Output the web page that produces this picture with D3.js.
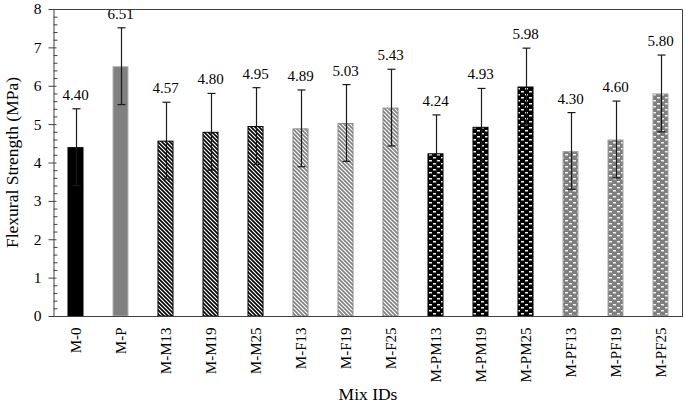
<!DOCTYPE html>
<html>
<head>
<meta charset="utf-8">
<script src="https://cdn.jsdelivr.net/npm/d3@7"></script>
<style>
  html, body { margin: 0; padding: 0; background: #fff; }
  svg { display: block; }
  svg text { font-family: "Times New Roman", Times, "Liberation Serif", LiberationSerif, "Nimbus Roman", serif !important; fill: #000; }
</style>
</head>
<body>
<svg id="chart" width="685" height="405"></svg>
<script>
const categories = ["M-0","M-P","M-M13","M-M19","M-M25","M-F13","M-F19","M-F25","M-PM13","M-PM19","M-PM25","M-PF13","M-PF19","M-PF25"];
const values = [4.40, 6.51, 4.57, 4.80, 4.95, 4.89, 5.03, 5.43, 4.24, 4.93, 5.98, 4.30, 4.60, 5.80];
const errors = [1.00, 1.00, 1.00, 1.00, 1.00, 1.00, 1.00, 1.00, 1.00, 1.00, 1.00, 1.00, 1.00, 1.00];
const yTicks = [0, 1, 2, 3, 4, 5, 6, 7, 8];
const groups = ["plain", "P", "M", "M", "M", "F", "F", "F", "PM", "PM", "PM", "PF", "PF", "PF"];

const svg = d3.select("#chart");
const W = 685, H = 405;
const m = { left: 53, right: 2, top: 9, bottom: 89 };
const x0 = m.left, x1 = W - m.right, y0 = H - m.bottom, y1 = m.top;

const x = d3.scaleBand().domain(categories).range([x0, x1]).paddingInner(0.644).paddingOuter(0.322);
const y = d3.scaleLinear().domain([0, 8]).range([y0, y1]);

const defs = svg.append("defs");
function stripes(id, color) {
  const p = defs.append("pattern").attr("id", id).attr("patternUnits", "userSpaceOnUse")
    .attr("width", 4).attr("height", 4);
  p.append("rect").attr("width", 4).attr("height", 4).attr("fill", "#fff");
  p.append("path").attr("d", "M-1,-1L5,5M3,-1L5,1M-1,3L1,5")
    .attr("stroke", color).attr("stroke-width", 1.6);
}
function dashes(id, color) {
  const p = defs.append("pattern").attr("id", id).attr("patternUnits", "userSpaceOnUse")
    .attr("width", 8).attr("height", 6);
  p.append("rect").attr("width", 8).attr("height", 6).attr("fill", color);
  p.append("rect").attr("x", 1).attr("y", 1).attr("width", 3).attr("height", 1.5).attr("fill", "#f0f0f0");
  p.append("rect").attr("x", 5).attr("y", 4).attr("width", 3).attr("height", 1.5).attr("fill", "#f0f0f0");
}
stripes("stM", "#000");
stripes("stF", "#808080");
dashes("dPM", "#000");
dashes("dPF", "#7f7f7f");

const style = {
  plain: { fill: "#000", stroke: "#000" },
  P: { fill: "#808080", stroke: "#b3b3b3" },
  M: { fill: "url(#stM)", stroke: "#000" },
  F: { fill: "url(#stF)", stroke: "#8c8c8c" },
  PM: { fill: "url(#dPM)", stroke: "#000" },
  PF: { fill: "url(#dPF)", stroke: "#a6a6a6" }
};

const data = categories.map((c, i) => ({ c, v: values[i], e: errors[i], g: groups[i] }));

svg.append("g").selectAll("rect").data(data).join("rect")
  .attr("x", d => x(d.c) + 0.5)
  .attr("y", d => y(d.v) + 0.5)
  .attr("width", x.bandwidth() - 1)
  .attr("height", d => y(0) - y(d.v) - 0.5)
  .attr("fill", d => style[d.g].fill)
  .attr("stroke", d => style[d.g].stroke)
  .attr("stroke-width", 1);

const eb = svg.append("g").attr("stroke", "#1a1a1a").attr("stroke-width", 1.2);
data.forEach(d => {
  const cx = Math.round(x(d.c) + x.bandwidth() / 2) + 0.5;
  eb.append("line").attr("x1", cx).attr("x2", cx).attr("y1", y(d.v + d.e)).attr("y2", y(d.v - d.e));
  eb.append("line").attr("x1", cx - 4).attr("x2", cx + 4).attr("y1", y(d.v + d.e)).attr("y2", y(d.v + d.e));
  eb.append("line").attr("x1", cx - 4).attr("x2", cx + 4).attr("y1", y(d.v - d.e)).attr("y2", y(d.v - d.e));
});

svg.append("g").selectAll("text").data(data).join("text")
  .attr("x", d => x(d.c) + x.bandwidth() / 2)
  .attr("y", d => y(d.v + d.e) - 9)
  .attr("text-anchor", "middle")
  .attr("font-size", 15)
  .text(d => d.v.toFixed(2));

svg.append("path")
  .attr("d", `M${x0},${y1 + 0.5}H${x1 - 0.5}V${y0}`)
  .attr("fill", "none").attr("stroke", "#404040").attr("stroke-width", 1);

const minor = d3.range(0, 8.0001, 0.2).map(v => +v.toFixed(1)).filter(v => Math.abs(v - Math.round(v)) > 1e-6);
svg.append("g").attr("transform", `translate(${x0 + 0.5},0)`)
  .call(d3.axisLeft(y).tickValues(minor).tickSize(-4).tickFormat(""))
  .call(g => g.select(".domain").remove())
  .call(g => g.selectAll("line").attr("stroke", "#404040"));
const yAx = svg.append("g").attr("transform", `translate(${x0 + 0.5},0)`)
  .call(d3.axisLeft(y).tickValues(yTicks).tickSizeInner(5).tickSizeOuter(0).tickPadding(7).tickFormat(d3.format("d")));
yAx.select(".domain").attr("stroke", "#404040");
yAx.selectAll(".tick line").attr("stroke", "#404040").attr("x2", 3).attr("x1", -5);
yAx.selectAll(".tick text").attr("font-size", 15.5);

const xAx = svg.append("g").attr("transform", `translate(0,${y0 + 0.5})`)
  .call(d3.axisBottom(x).tickSize(0).tickFormat(d => d));
xAx.select(".domain").attr("stroke", "#404040").attr("d", `M${x0},0H${x1}`);
xAx.selectAll(".tick text")
  .attr("font-size", 15)
  .attr("text-anchor", "end")
  .attr("transform", "rotate(-90)")
  .attr("x", -11)
  .attr("y", 0)
  .attr("dy", "0.35em");

svg.append("text")
  .attr("transform", `translate(18,${(y0 + y1) / 2}) rotate(-90)`)
  .attr("text-anchor", "middle")
  .attr("font-size", 17.5)
  .text("Flexural Strength (MPa)");
svg.append("text")
  .attr("x", (x0 + x1) / 2)
  .attr("y", 400)
  .attr("text-anchor", "middle")
  .attr("font-size", 17.5)
  .text("Mix IDs");
</script>
</body>
</html>
